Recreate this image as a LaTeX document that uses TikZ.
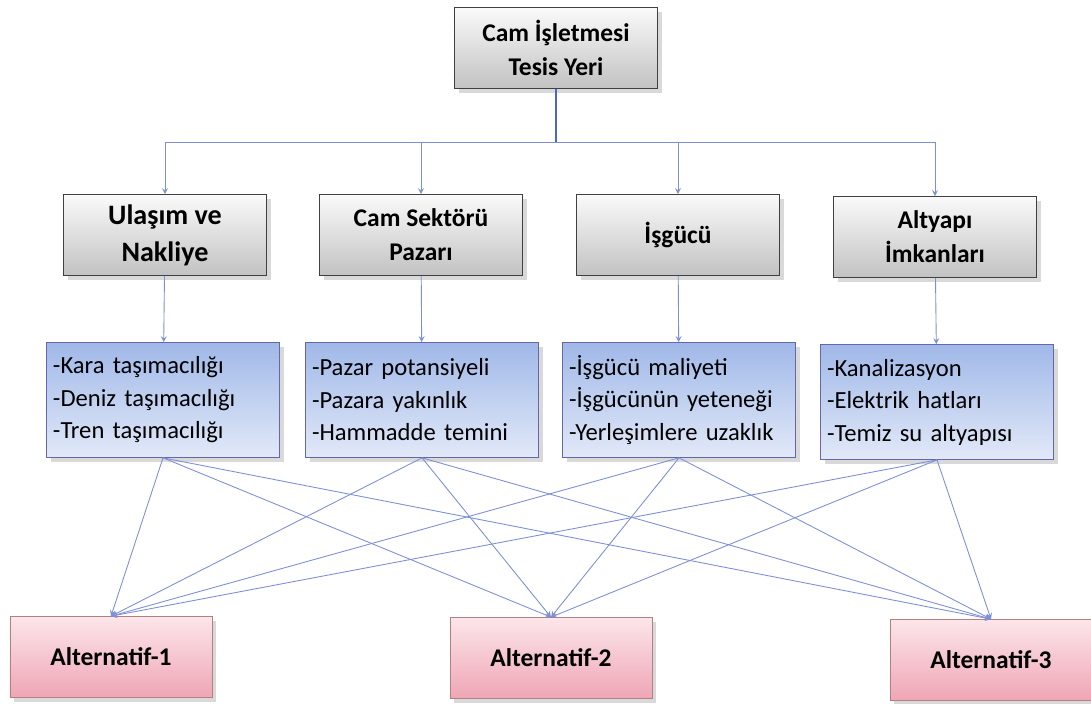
\documentclass[tikz,border=0pt]{standalone}
\usepackage{fontspec}
\setmainfont{Carlito}
\usetikzlibrary{shapes.geometric, arrows, positioning, shadows}

\definecolor{cizgi}{HTML}{7D8FD6}
\definecolor{govde}{HTML}{4A68C8}
\definecolor{griust}{HTML}{FAFAFA}
\definecolor{grialt}{HTML}{C2C2C2}
\definecolor{maviust}{HTML}{A0B8E8}
\definecolor{mavialt}{HTML}{E2E9F8}
\definecolor{pembeust}{HTML}{FCE6EA}
\definecolor{pembealt}{HTML}{EFA5B5}

\begin{document}
\begin{tikzpicture}[x=0.2mm, y=-0.2mm]
		\tikzstyle{Gri} = [rectangle, minimum width=40.6mm, minimum height=16.2mm, align=center, draw=black!75, top color=griust, bottom color=grialt, drop shadow={opacity=0.3}, font=\bfseries\fontsize{14.5}{19.5}\selectfont]
		\tikzstyle{Mavi} = [rectangle, minimum width=46.6mm, minimum height=23mm, text width=44mm, align=left, draw=black!55!blue!60, top color=maviust, bottom color=mavialt, drop shadow={opacity=0.3}, font=\fontsize{14}{18.5}\selectfont]
		\tikzstyle{Pembe} = [rectangle, minimum width=40.4mm, minimum height=16.2mm, align=center, draw=black!60!red!50, top color=pembeust, bottom color=pembealt, drop shadow={opacity=0.3}, font=\bfseries\fontsize{14.5}{19}\selectfont]
		\tikzstyle{arrow} = [->, >=stealth, draw=cizgi, line width=0.5pt]
		
		\useasboundingbox (0,0) rectangle (1091,704);
		
		\node (tesis) [Gri] at (556,48) {Cam İşletmesi\\Tesis Yeri};
		\coordinate (kol) at (556,142);
		
		\node (ulasim) [Gri, font=\bfseries\fontsize{16}{21}\selectfont] at (165,235) {Ulaşım ve\\Nakliye};
		\node (sektor) [Gri] at (421,235) {Cam Sektörü\\Pazarı};
		\node (isgucu) [Gri] at (678,235) {İşgücü};
		\node (altyapi) [Gri] at (935,237) {Altyapı\\İmkanları};
		
		\node (kara) [Mavi] at (163,400) {-Kara taşımacılığı\\-Deniz taşımacılığı\\-Tren taşımacılığı};
		\node (pazar) [Mavi] at (422,400) {-Pazar potansiyeli\\-Pazara yakınlık\\-Hammadde temini};
		\node (maliyet) [Mavi] at (679,400) {-İşgücü maliyeti\\-İşgücünün yeteneği\\-Yerleşimlere uzaklık};
		\node (kanal) [Mavi] at (937,402) {-Kanalizasyon\\-Elektrik hatları\\-Temiz su altyapısı};
		
		\node (alt1) [Pembe] at (111,657) {Alternatif-1};
		\node (alt2) [Pembe] at (551,658) {Alternatif-2};
		\node (alt3) [Pembe] at (991,660) {Alternatif-3};
		
		\draw [govde, line width=1.2pt] (tesis.south) -- (kol);
		\foreach \n in {ulasim, sektor, isgucu, altyapi}
			\draw [arrow] (kol) -| (\n.north);
		
		\draw [arrow] (ulasim) -- (kara);
		\draw [arrow] (sektor) -- (pazar);
		\draw [arrow] (isgucu) -- (maliyet);
		\draw [arrow] (altyapi) -- (kanal);
		
		\foreach \k in {kara, pazar, maliyet, kanal}
			\foreach \a in {alt1, alt2, alt3}
				\draw [arrow] (\k.south) -- (\a.north);
\end{tikzpicture}
\end{document}
